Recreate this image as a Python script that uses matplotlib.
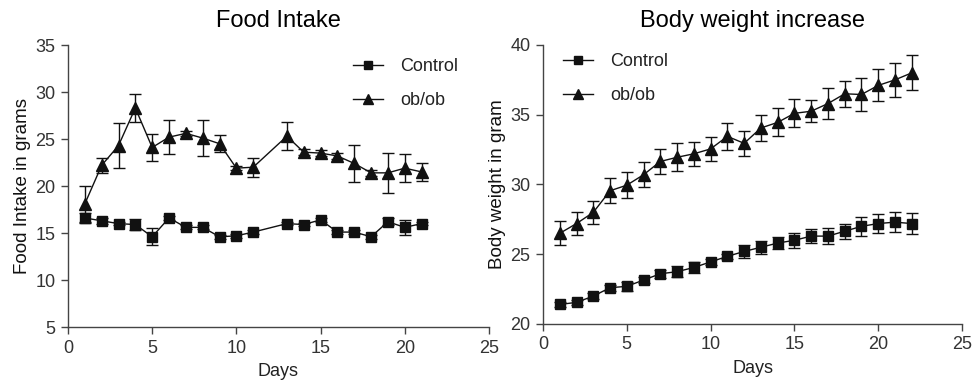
import matplotlib
matplotlib.use("Agg")
import matplotlib.pyplot as plt
from matplotlib.lines import Line2D

plt.rcParams['font.family'] = ['Liberation Sans', 'DejaVu Sans']

# Food intake data
fi_days = [1, 2, 3, 4, 5, 6, 7, 8, 9, 10, 11, 13, 14, 15, 16, 17, 18, 19, 20, 21]
fi_control = [16.6, 16.3, 16.0, 15.9, 14.6, 16.6, 15.6, 15.6, 14.6, 14.7, 15.1,
              16.0, 15.9, 16.4, 15.1, 15.1, 14.6, 16.2, 15.6, 16.0]
fi_control_err = [0.5, 0.3, 0.2, 0.6, 0.9, 0.2, 0.2, 0.2, 0.2, 0.2, 0.2,
                  0.2, 0.2, 0.2, 0.2, 0.2, 0.2, 0.4, 0.8, 0.2]
fi_obob = [18.1, 22.2, 24.3, 28.3, 24.1, 25.2, 25.6, 25.1, 24.5, 21.9, 22.0,
           25.3, 23.6, 23.5, 23.2, 22.4, 21.4, 21.4, 21.9, 21.5]
fi_obob_err = [1.9, 0.8, 2.4, 1.5, 1.4, 1.8, 0.3, 1.9, 0.9, 0.2, 1.0,
               1.5, 0.3, 0.3, 0.3, 2.0, 0.3, 2.1, 1.5, 1.0]

# Body weight data
bw_days = list(range(1, 23))
bw_control = [21.4, 21.55, 22.0, 22.6, 22.7, 23.15, 23.6, 23.75, 24.05, 24.45, 24.85,
              25.2, 25.5, 25.8, 26.0, 26.3, 26.3, 26.65, 27.0, 27.2, 27.3, 27.2]
bw_control_err = [0.2, 0.2, 0.2, 0.2, 0.3, 0.2, 0.3, 0.4, 0.4, 0.2, 0.2,
                  0.45, 0.45, 0.45, 0.55, 0.5, 0.6, 0.55, 0.7, 0.7, 0.7, 0.75]
bw_obob = [26.5, 27.2, 28.0, 29.55, 29.95, 30.7, 31.65, 31.95, 32.2, 32.55, 33.45,
           32.95, 34.05, 34.45, 35.1, 35.25, 35.8, 36.5, 36.45, 37.1, 37.5, 38.0]
bw_obob_err = [0.85, 0.85, 0.85, 0.9, 0.95, 0.9, 0.9, 1.0, 0.85, 0.85, 0.95,
               0.9, 0.9, 1.0, 1.0, 0.8, 1.1, 0.95, 1.15, 1.15, 1.2, 1.25]

x_ticks = [0, 5, 10, 15, 20, 25]
fi_yticks = [5, 10, 15, 20, 25, 30, 35]
bw_yticks = [20, 25, 30, 35, 40]
series_labels = ['Control', 'ob/ob']

fig = plt.figure(figsize=(9.74, 3.87), dpi=100)
ax1 = fig.add_axes([0.0698, 0.155, 0.4322, 0.7287])
ax2 = fig.add_axes([0.5575, 0.1628, 0.4302, 0.721])

line_col = '#111111'
tick_col = '#333333'


def style(ax):
    for s in ['top', 'right']:
        ax.spines[s].set_visible(False)
    for s in ['left', 'bottom']:
        ax.spines[s].set_color('#444444')
        ax.spines[s].set_linewidth(1.0)
    ax.tick_params(direction='out', length=5, width=1.0, colors='#444444',
                   labelcolor=tick_col, labelsize=13, pad=4)


def draw(ax, days, c, ce, o, oe):
    ax.errorbar(days, c, yerr=ce, color=line_col, marker='s', markersize=6.5,
                linewidth=1.0, capsize=4.5, elinewidth=1.0, capthick=1.0)
    ax.errorbar(days, o, yerr=oe, color=line_col, marker='^', markersize=8.5,
                linewidth=1.0, capsize=4.5, elinewidth=1.0, capthick=1.0)


def legend(ax, x, y):
    handles = [Line2D([], [], color=line_col, marker='s', markersize=5.5, linewidth=1.0),
               Line2D([], [], color=line_col, marker='^', markersize=7.5, linewidth=1.0)]
    leg = ax.legend(handles, series_labels, loc='upper left', bbox_to_anchor=(x, y),
                    bbox_transform=fig.transFigure, frameon=False, fontsize=13,
                    handlelength=1.66, handletextpad=0.95, labelspacing=0.95,
                    borderpad=0, borderaxespad=0)
    for t in leg.get_texts():
        t.set_color('#222222')


draw(ax1, fi_days, fi_control, fi_control_err, fi_obob, fi_obob_err)
ax1.set_xlim(0, 25)
ax1.set_ylim(5, 35)
ax1.set_xticks(x_ticks)
ax1.set_yticks(fi_yticks)
style(ax1)
ax1.set_title('Food Intake', fontsize=17, pad=13)
ax1.set_xlabel('Days', fontsize=13, labelpad=5, color='#222222')
ax1.set_ylabel('Food Intake in grams', fontsize=13.5, labelpad=3, color='#111111')
legend(ax1, 353 / 974, 1 - 58 / 387)

draw(ax2, bw_days, bw_control, bw_control_err, bw_obob, bw_obob_err)
ax2.set_xlim(0, 25)
ax2.set_ylim(20, 40)
ax2.set_xticks(x_ticks)
ax2.set_yticks(bw_yticks)
style(ax2)
ax2.set_title('Body weight increase', fontsize=17, pad=13)
ax2.set_xlabel('Days', fontsize=13, labelpad=5, color='#222222')
ax2.set_ylabel('Body weight in gram', fontsize=13.5, labelpad=3, color='#111111')
legend(ax2, 563 / 974, 1 - 53 / 387)

fig.savefig('out.png', dpi=100)
